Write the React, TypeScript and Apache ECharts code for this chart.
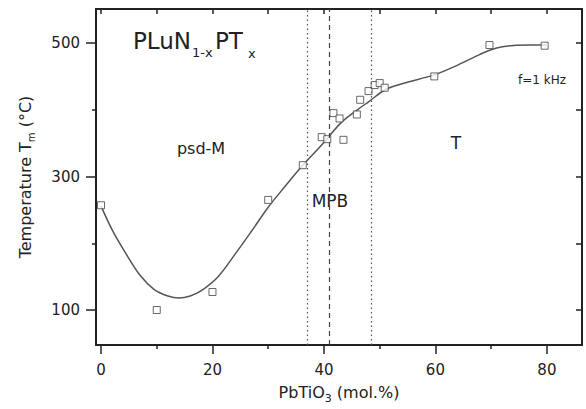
import React, { useEffect, useRef } from "react";
import * as echarts from "echarts";

// ---- data ----
const pointsX = [0, 10, 20, 30, 36.2, 39.6, 40.6, 43.5, 41.7, 42.8, 45.9, 46.5, 48, 49.1, 50, 50.9, 59.8, 69.7, 79.6];
const pointsY = [257, 100, 127, 265, 317, 359, 356, 355, 395, 387, 393, 415, 428, 437, 440, 433, 450, 497, 496];

const curveX = [0, 2, 4.5, 7, 9.5, 12, 14, 16, 18, 21, 24, 27, 30, 33, 36, 40, 43, 46, 48, 51, 54, 60, 64, 68, 70, 72, 74, 77, 80];
const curveY = [256, 220, 184, 152, 131, 121, 118, 121, 129, 150, 183, 218, 254, 285, 315, 351, 380, 400, 412, 430, 439, 453, 467, 483, 490, 494.5, 496.5, 497, 497];

const boundaryDotted = [37, 48.4];
const boundaryDashed = [41];

const xMajorTicks = [0, 20, 40, 60, 80];
const xMinorTicks = [10, 30, 50, 70];
const xTopTicks = [0, 10, 20, 30, 40, 50, 60, 70, 80];
const yMajorTicks = [100, 300, 500];
const yMinorTicks = [200, 400];
const yRightTicks = [100, 200, 300, 400, 500];

const FONT = "DejaVu Sans, Liberation Sans, Arial, sans-serif";
const INK = "#222";

export default function App() {
  const ref = useRef<HTMLDivElement>(null);

  useEffect(() => {
    if (!ref.current) return;
    const chart = echarts.init(ref.current, undefined, { renderer: "svg" });
    const xMin = -0.9, xMax = 86.3, yMin = 47.6, yMax = 551;
    const axisLine = { show: true, onZero: false, lineStyle: { color: INK, width: 2 } };
    const hiddenLine = { show: false, onZero: false };
    const tickStyle = { color: INK, width: 1.5 };
    const labelStyle = { color: INK, fontFamily: FONT, fontSize: 15 };

    chart.setOption({
      animation: false,
      backgroundColor: "#fff",
      grid: { left: 96, right: 4, top: 9, bottom: 64, outerBoundsMode: "none" },
      xAxis: [
        {
          type: "value", position: "bottom", min: xMin, max: xMax,
          axisLine,
          axisTick: { show: true, inside: false, length: 9, customValues: xMajorTicks, lineStyle: tickStyle },
          axisLabel: { show: true, customValues: xMajorTicks, margin: 17, ...labelStyle },
          splitLine: { show: false },
          name: "PbTiO{s|3} (mol.%)",
          nameLocation: "middle",
          nameGap: 35,
          nameTextStyle: {
            color: INK, fontFamily: FONT, fontSize: 16, lineHeight: 22,
            rich: { s: { fontFamily: FONT, fontSize: 11, lineHeight: 11, verticalAlign: "bottom", color: INK } },
          },
        },
        {
          type: "value", position: "bottom", min: xMin, max: xMax,
          axisLine: hiddenLine,
          axisTick: { show: true, inside: false, length: 4, customValues: xMinorTicks, lineStyle: tickStyle },
          axisLabel: { show: false },
          splitLine: { show: false },
        },
        {
          type: "value", position: "top", min: xMin, max: xMax,
          axisLine,
          axisTick: { show: true, inside: true, length: 5, customValues: xTopTicks, lineStyle: tickStyle },
          axisLabel: { show: false },
          splitLine: { show: false },
        },
      ],
      yAxis: [
        {
          type: "value", position: "left", min: yMin, max: yMax,
          axisLine,
          axisTick: { show: true, inside: false, length: 10, customValues: yMajorTicks, lineStyle: tickStyle },
          axisLabel: { show: true, customValues: yMajorTicks, margin: 16, ...labelStyle },
          splitLine: { show: false },
          name: "Temperature T{s|m} (°C)",
          nameLocation: "middle",
          nameGap: 60,
          nameTextStyle: {
            color: INK, fontFamily: FONT, fontSize: 16, lineHeight: 22,
            rich: { s: { fontFamily: FONT, fontSize: 10, lineHeight: 10, verticalAlign: "bottom", color: INK } },
          },
        },
        {
          type: "value", position: "left", min: yMin, max: yMax,
          axisLine: hiddenLine,
          axisTick: { show: true, inside: false, length: 4, customValues: yMinorTicks, lineStyle: tickStyle },
          axisLabel: { show: false },
          splitLine: { show: false },
        },
        {
          type: "value", position: "right", min: yMin, max: yMax,
          axisLine,
          axisTick: { show: true, inside: true, length: 6, customValues: yRightTicks, lineStyle: tickStyle },
          axisLabel: { show: false },
          splitLine: { show: false },
        },
      ],
      series: [
        {
          type: "line",
          xAxisIndex: 0, yAxisIndex: 0,
          data: curveX.map((x, i) => [x, curveY[i]]),
          smooth: 0.35,
          showSymbol: false,
          lineStyle: { color: "#555", width: 1.5 },
          silent: true,
          markLine: {
            silent: true,
            symbol: ["none", "none"],
            label: { show: false },
            data: [
              ...boundaryDotted.map((v) => ({ xAxis: v, lineStyle: { type: [1.5, 3], color: "#555", width: 1.2 } })),
              ...boundaryDashed.map((v) => ({ xAxis: v, lineStyle: { type: [5, 4], color: "#444", width: 1.2 } })),
            ],
          },
          z: 2,
        },
        {
          type: "scatter",
          xAxisIndex: 0, yAxisIndex: 0,
          data: pointsX.map((x, i) => [x, pointsY[i]]),
          symbol: "rect",
          symbolSize: 7,
          itemStyle: { color: "#fff", borderColor: "#444", borderWidth: 1 },
          z: 3,
        },
      ],
      graphic: [
        { type: "text", x: 133, y: 41, style: { text: "PLuN", fontFamily: FONT, fontSize: 23, fill: INK, align: "left", verticalAlign: "middle" } },
        { type: "text", x: 192, y: 52, style: { text: "1-x", fontFamily: FONT, fontSize: 13, fill: INK, align: "left", verticalAlign: "middle" } },
        { type: "text", x: 215, y: 41, style: { text: "PT", fontFamily: FONT, fontSize: 23, fill: INK, align: "left", verticalAlign: "middle" } },
        { type: "text", x: 248, y: 53, style: { text: "x", fontFamily: FONT, fontSize: 13, fill: INK, align: "left", verticalAlign: "middle" } },
        { type: "text", x: 201, y: 148, style: { text: "psd-M", fontFamily: FONT, fontSize: 16, fill: INK, align: "center", verticalAlign: "middle" } },
        { type: "text", x: 330, y: 201, style: { text: "MPB", fontFamily: FONT, fontSize: 17, fill: INK, align: "center", verticalAlign: "middle" } },
        { type: "text", x: 456, y: 143, style: { text: "T", fontFamily: FONT, fontSize: 17, fill: INK, align: "center", verticalAlign: "middle" } },
        { type: "text", x: 542, y: 80, style: { text: "f=1 kHz", fontFamily: FONT, fontSize: 12, fill: INK, align: "center", verticalAlign: "middle" } },
      ],
    });
    return () => chart.dispose();
  }, []);

  return (
    <div
      ref={ref}
      style={{ position: "fixed", left: 0, top: 0, width: 586, height: 409, background: "#fff" }}
    />
  );
}
